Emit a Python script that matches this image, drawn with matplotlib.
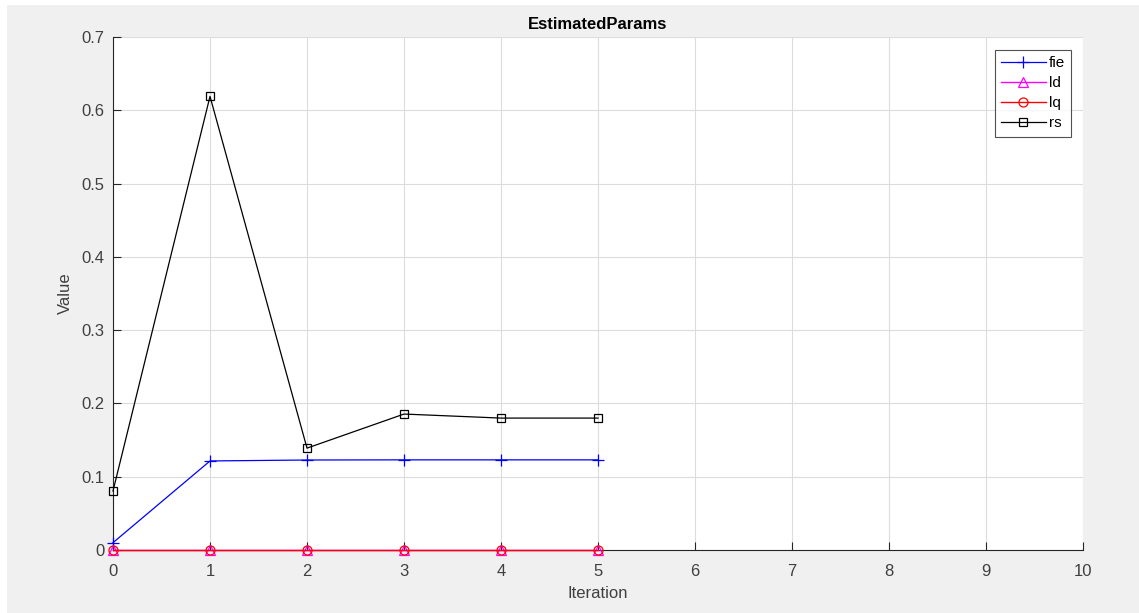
import matplotlib
matplotlib.use("Agg")
import matplotlib.pyplot as plt
from matplotlib.patches import Rectangle

plt.rcParams['font.family'] = ['Liberation Sans', 'DejaVu Sans']

iterations = [0, 1, 2, 3, 4, 5]
fie = [0.010, 0.1215, 0.1228, 0.123, 0.123, 0.123]
ld = [0, 0, 0, 0, 0, 0]
lq = [0, 0, 0, 0, 0, 0]
rs = [0.0805, 0.619, 0.139, 0.1855, 0.180, 0.180]

fig = plt.figure(figsize=(11.39, 6.13), dpi=100)
fig.patch.set_facecolor('white')
fig.patches.append(Rectangle((7 / 1139, 0), 1 - 7 / 1139, 1 - 5 / 613,
                             transform=fig.transFigure, facecolor='#f0f0f0',
                             edgecolor='none', zorder=-10))

ax = fig.add_axes([113 / 1139, 1 - 550 / 613, (1083 - 113) / 1139, (550 - 37) / 613])
ax.set_facecolor('white')

ax.plot(iterations, fie, color='blue', lw=0.9, marker='+', ms=8, mew=0.9, label='fie', clip_on=False, zorder=3)
ax.plot(iterations, ld, color='magenta', lw=1.0, marker='^', ms=6.5, mfc='none', mew=0.9, label='ld', clip_on=False, zorder=3)
ax.plot(iterations, lq, color='red', lw=1.0, marker='o', ms=6.5, mfc='none', mew=0.9, label='lq', clip_on=False, zorder=3)
ax.plot(iterations, rs, color='black', lw=0.9, marker='s', ms=5.5, mfc='none', mew=0.9, label='rs', clip_on=False, zorder=3)

ax.set_xlim(0, 10)
ax.set_ylim(0, 0.7)
ax.set_xticks(range(0, 11))
ax.set_yticks([0, 0.1, 0.2, 0.3, 0.4, 0.5, 0.6, 0.7])
ax.set_yticklabels(['0', '0.1', '0.2', '0.3', '0.4', '0.5', '0.6', '0.7'])
ax.grid(True, color='#dcdcdc', lw=0.8)
ax.set_axisbelow(True)

for s in ['top', 'right']:
    ax.spines[s].set_visible(False)
for s in ['left', 'bottom']:
    ax.spines[s].set_color('#262626')
    ax.spines[s].set_linewidth(0.8)
ax.tick_params(direction='in', length=6, width=0.8, colors='#262626',
               labelsize=12, labelcolor='#404040')
ax.tick_params(axis='x', pad=10)
ax.tick_params(axis='y', pad=6)

ax.set_xlabel('Iteration', fontsize=12, color='#404040', labelpad=5)
ax.set_ylabel('Value', fontsize=12, color='#404040', labelpad=6)
ax.set_title('EstimatedParams', fontsize=12, fontweight='bold', color='black', pad=6)

leg = ax.legend(loc='upper right', bbox_to_anchor=(1 - 12 / 970, 1 - 13 / 513), fontsize=11,
                frameon=True, fancybox=False, handlelength=2.9, handletextpad=0.2,
                borderpad=0.4, labelspacing=0.4, borderaxespad=0)
leg.get_frame().set_edgecolor('#262626')
leg.get_frame().set_linewidth(0.8)
leg.set_zorder(5)

fig.savefig('out.png', dpi=100)
